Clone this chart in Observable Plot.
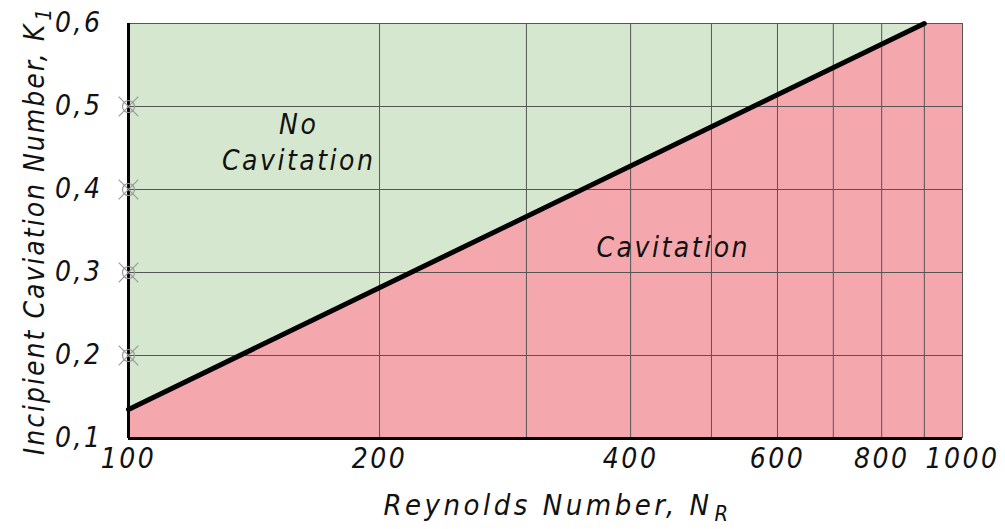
<!DOCTYPE html>
<html>
<head>
<meta charset="utf-8">
<script src="https://cdn.jsdelivr.net/npm/d3@7"></script>
<script src="https://cdn.jsdelivr.net/npm/@observablehq/plot@0.6"></script>
<style>
  html, body { margin: 0; padding: 0; background: #fff; }
  #chart svg { display: block; }
</style>
</head>
<body>
<div id="chart"></div>
<script>
// ---- data ----
const xTicks = [100, 200, 300, 400, 500, 600, 700, 800, 900, 1000];
const xTickLabels = [100, 200, 400, 600, 800, 1000];
const yTicks = [0.1, 0.2, 0.3, 0.4, 0.5, 0.6];
const markerK = [0.2, 0.3, 0.4, 0.5];
// boundary line (Reynolds number vs incipient cavitation number)
const boundaryNR = [100, 900];
const boundaryK = [0.135, 0.6];
// cavitation region outline (upper edge)
const regionNR = [100, 900, 1000];
const regionK = [0.135, 0.6, 0.6];
// region labels
const labelText = ["No\nCavitation", "Cavitation"];
const labelNR = [160, 450];
const labelK = [0.459, 0.333];
const xTitle = "Reynolds Number, N";
const xTitleSub = "R";
const yTitle = "Incipient Caviation Number, K";
const yTitleSub = "1";

const green = "#d5e8cf";
const red = "#f4a8ae";
const gridColor = "#555";
const font = "'DejaVu Sans Condensed', 'DejaVu Sans', sans-serif";

const boundary = boundaryNR.map((x, i) => ({x, k: boundaryK[i]}));
const region = regionNR.map((x, i) => ({x, k: regionK[i]}));
const labels = labelText.map((t, i) => ({t, x: labelNR[i], k: labelK[i]}));
const yMin = yTicks[0];

const chart = Plot.plot({
  width: 1005,
  height: 529,
  marginLeft: 128,
  marginRight: 43,
  marginTop: 23,
  marginBottom: 91,
  style: {fontFamily: font, fontStyle: "italic", background: "#fff", color: "#111"},
  x: {type: "log", domain: [100, 1000], axis: null},
  y: {domain: [0.1, 0.6], axis: null},
  marks: [
    Plot.frame({fill: green, stroke: "none"}),
    Plot.areaY(region, {x: "x", y1: () => yMin, y2: "k", fill: red}),
    Plot.ruleX(xTicks, {stroke: gridColor, strokeWidth: 1}),
    Plot.ruleY(yTicks, {stroke: gridColor, strokeWidth: 1}),
    Plot.ruleX([100], {stroke: "#000", strokeWidth: 3}),
    Plot.ruleY([0.1], {stroke: "#000", strokeWidth: 3}),
    Plot.line(boundary, {x: "x", y: "k", stroke: "#000", strokeWidth: 5, strokeLinecap: "round"}),
    Plot.dot(markerK, {x: () => 100, y: d => d, r: 6, stroke: "#999", strokeWidth: 1.2, fill: "none"}),
    Plot.dot(markerK, {x: () => 100, y: d => d, r: 9, symbol: "times", stroke: "#999", strokeWidth: 1.2}),
    Plot.axisX(xTickLabels, {label: null, tickSize: 0, tickPadding: 10, fontSize: 28, tickFormat: d => String(d), fill: "#111"}),
    Plot.axisY(yTicks, {label: null, tickSize: 0, tickPadding: 26, fontSize: 28, tickFormat: d => d3.format(".1f")(d).replace(".", ","), fill: "#111"}),
    Plot.text(labels, {x: "x", y: "k", text: "t", fontSize: 28, lineHeight: 1.3, fill: "#111"}),
    Plot.text([xTitle], {frameAnchor: "bottom", textAnchor: "middle", dx: 12, dy: 76, fontSize: 29, fill: "#111"}),
    Plot.text([yTitle], {frameAnchor: "left", textAnchor: "middle", dx: -93, dy: 0, rotate: -90, fontSize: 28, fill: "#111"})
  ]
});
document.getElementById("chart").appendChild(chart);

d3.select(chart).selectAll("text").style("letter-spacing", "2.5px");
// add subscripts to axis titles
function addSub(title, sub, spacing) {
  d3.select(chart).selectAll("text")
    .filter(function() { return this.textContent === title; })
    .style("letter-spacing", spacing)
    .append("tspan").attr("dy", "0.3em").attr("font-size", "0.75em").attr("dx", "2").text(sub);
}
addSub(xTitle, xTitleSub, "3.5px");
addSub(yTitle, yTitleSub, "2px");
</script>
</body>
</html>
